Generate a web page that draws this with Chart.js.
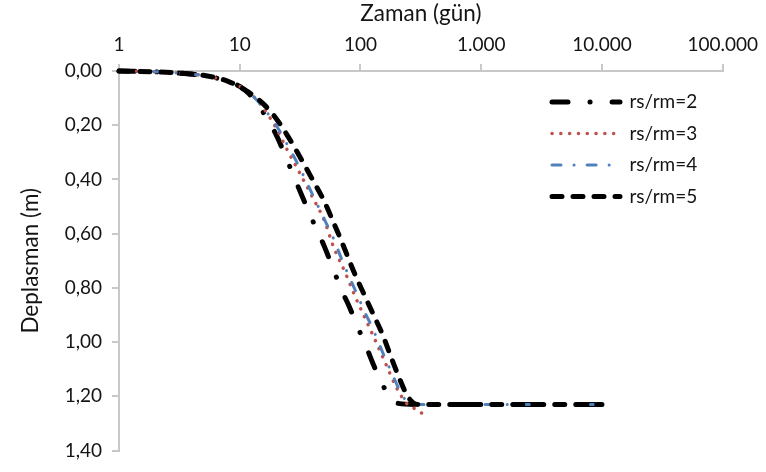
<!DOCTYPE html>
<html>
<head>
<meta charset="utf-8">
<script src="https://cdn.jsdelivr.net/npm/chart.js@4/dist/chart.umd.min.js"></script>
<style>
html,body{margin:0;padding:0;background:#fff;}
#wrap{width:766px;height:472px;position:relative;}
</style>
</head>
<body>
<div id="wrap"><canvas id="c" width="766" height="472"></canvas></div>
<script>
// ---- data ----
const xTickValues = [1, 10, 100, 1000, 10000, 100000];
const xTickLabels = ['1', '10', '100', '1.000', '10.000', '100.000'];
const yTickValues = [0, 0.2, 0.4, 0.6, 0.8, 1.0, 1.2, 1.4];
const yTickLabels = ['0,00', '0,20', '0,40', '0,60', '0,80', '1,00', '1,20', '1,40'];
const seriesNames = ['rs/rm=2', 'rs/rm=3', 'rs/rm=4', 'rs/rm=5'];

// time (gün) and displacement (m) for each series
const t2 = [1, 2, 3, 5, 8, 10, 12, 15, 20, 25, 30, 40, 50, 60, 70, 80, 95, 110, 130, 150, 175, 200, 300, 1000, 3000, 10000];
const d2 = [0, 0.003, 0.007, 0.017, 0.038, 0.057, 0.085, 0.14, 0.235, 0.335, 0.42, 0.55, 0.645, 0.735, 0.81, 0.865, 0.945, 1.01, 1.09, 1.15, 1.205, 1.225, 1.23, 1.23, 1.23, 1.23];

const t3 = [1, 2, 3, 5, 8, 10, 12, 15, 20, 25, 30, 40, 50, 60, 75, 90, 110, 130, 160, 200, 240, 280, 330];
const d3 = [0, 0.003, 0.007, 0.017, 0.038, 0.057, 0.08, 0.125, 0.21, 0.295, 0.36, 0.465, 0.55, 0.65, 0.745, 0.83, 0.915, 0.985, 1.075, 1.17, 1.225, 1.245, 1.265];

const t4 = [1, 2, 3, 5, 8, 10, 12, 15, 20, 25, 30, 40, 50, 60, 70, 80, 95, 110, 125, 150, 180, 210, 250, 300, 1000, 3000, 10000];
const d4 = [0, 0.003, 0.007, 0.017, 0.038, 0.057, 0.08, 0.125, 0.2, 0.275, 0.34, 0.455, 0.545, 0.62, 0.695, 0.755, 0.83, 0.895, 0.945, 1.03, 1.11, 1.175, 1.225, 1.23, 1.23, 1.23, 1.23];

const t5 = [1, 2, 3, 5, 8, 12, 16, 20, 25, 30, 40, 50, 60, 70, 90, 110, 130, 150, 200, 250, 300, 1000, 3000, 10000];
const d5 = [0, 0.003, 0.007, 0.016, 0.038, 0.08, 0.125, 0.175, 0.24, 0.30, 0.40, 0.48, 0.56, 0.63, 0.75, 0.835, 0.905, 0.965, 1.11, 1.205, 1.23, 1.23, 1.23, 1.23];

// ---- chart ----
const pairs = (ts, ds) => ts.map((t, i) => ({x: t, y: ds[i]}));
const FONT = 'Lato';
const TEXT = '#141414';
const AXIS = '#c8c8c8';

Chart.defaults.font.family = FONT;

const legendPlacer = {
  id: 'legendPlacer',
  afterLayout(chart) {
    const lg = chart.legend;
    if (!lg) return;
    const left = 539.5, top = 80;
    lg.left = left; lg.right = left + lg.width;
    lg.top = top; lg.bottom = top + 400;
  }
};

const styles = [
  {color: '#000000', width: 5, dash: [16, 22, 0.1, 22], cap: 'round', order: 3},
  {color: '#C0504D', width: 3.5, dash: [0.1, 8.7], cap: 'round', order: 2},
  {color: '#4F81BD', width: 3, dash: [9, 13, 0.1, 13], cap: 'round', order: 1},
  {color: '#000000', width: 5, dash: [10, 11], cap: 'round', order: 0}
];
const dataSets = [pairs(t2, d2), pairs(t3, d3), pairs(t4, d4), pairs(t5, d5)];

new Chart(document.getElementById('c'), {
  type: 'line',
  data: {
    datasets: seriesNames.map((name, i) => ({
      label: name,
      data: dataSets[i],
      borderColor: styles[i].color,
      backgroundColor: styles[i].color,
      borderWidth: styles[i].width,
      borderDash: styles[i].dash,
      borderCapStyle: styles[i].cap,
      borderJoinStyle: 'round',
      pointRadius: 0,
      fill: false,
      cubicInterpolationMode: 'monotone',
      order: styles[i].order,
      clip: false
    }))
  },
  options: {
    responsive: false,
    devicePixelRatio: 1,
    animation: false,
    layout: {padding: {left: 0, top: 0, right: 41, bottom: 14}},
    plugins: {
      tooltip: {enabled: false},
      legend: {
        display: true,
        position: 'chartArea',
        align: 'start',
        labels: {
          usePointStyle: true,
          pointStyle: 'line',
          pointStyleWidth: 68,
          boxHeight: 19,
          padding: 12.5,
          color: TEXT,
          font: {family: FONT, size: 19},
          generateLabels: (chart) => chart.data.datasets.map((ds, i) => ({
            text: ds.label,
            fillStyle: 'rgba(0,0,0,0)',
            strokeStyle: ds.borderColor,
            lineWidth: ds.borderWidth,
            lineDash: ds.borderDash,
            lineCap: ds.borderCapStyle,
            lineJoin: 'round',
            pointStyle: 'line',
            hidden: false,
            fontColor: TEXT,
            datasetIndex: i
          }))
        }
      }
    },
    scales: {
      x: {
        type: 'logarithmic',
        position: 'top',
        min: 1,
        max: 100000,
        afterBuildTicks: (s) => { s.ticks = xTickValues.map(v => ({value: v})); },
        afterFit: (s) => { s.height = 71; },
        ticks: {
          callback: (v, i) => xTickLabels[i],
          color: TEXT,
          font: {family: FONT, size: 19},
          padding: 8,
          maxRotation: 0,
          autoSkip: false
        },
        grid: {drawOnChartArea: false, drawTicks: true, tickLength: 7, color: AXIS, lineWidth: 2},
        border: {display: true, color: AXIS, width: 2},
        title: {display: true, text: 'Zaman (gün)', color: TEXT, font: {family: FONT, size: 22.5}, padding: {top: 0, bottom: 0}}
      },
      y: {
        type: 'linear',
        reverse: true,
        min: 0,
        max: 1.4,
        afterBuildTicks: (s) => { s.ticks = yTickValues.map(v => ({value: v})); },
        afterFit: (s) => { s.width = 119; },
        ticks: {
          callback: (v, i) => yTickLabels[i],
          color: TEXT,
          font: {family: FONT, size: 19},
          padding: 10
        },
        grid: {drawOnChartArea: false, drawTicks: true, tickLength: 7, color: AXIS, lineWidth: 2},
        border: {display: true, color: AXIS, width: 2},
        title: {display: true, text: 'Deplasman (m)', color: TEXT, font: {family: FONT, size: 22.5}, padding: {top: 17, bottom: 0}}
      }
    }
  },
  plugins: [legendPlacer]
});
</script>
</body>
</html>
